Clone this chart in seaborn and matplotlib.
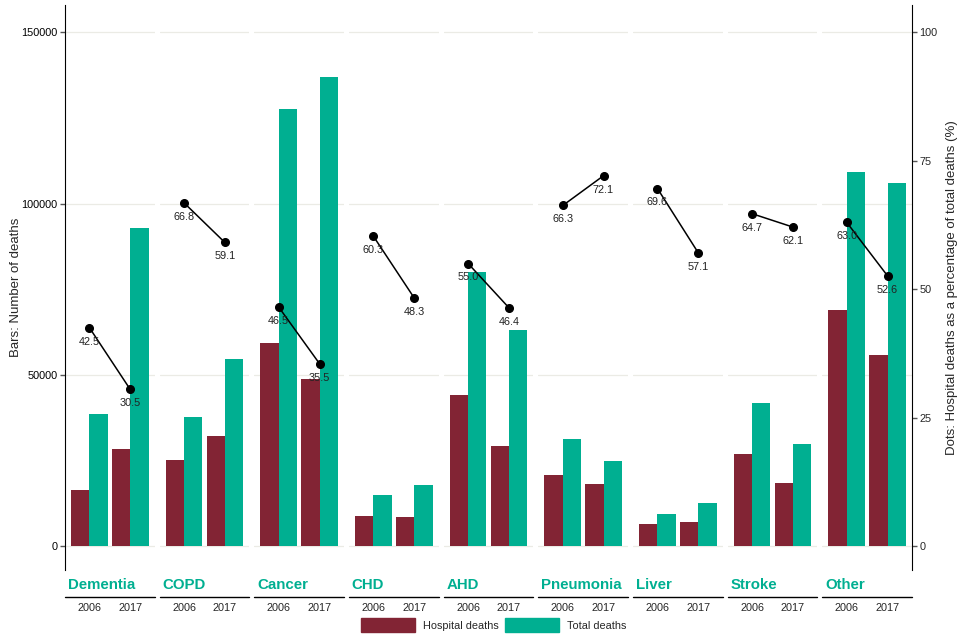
import matplotlib
matplotlib.use("Agg")
import matplotlib.pyplot as plt
import matplotlib.patches as mpatches
import seaborn as sns
import pandas as pd

causes = ["Dementia", "COPD", "Cancer", "CHD", "AHD", "Pneumonia", "Liver", "Stroke", "Other"]
years = ["2006", "2017"]
hosp_2006 = [16300, 25100, 59200, 8750, 44100, 20700, 6400, 26800, 68900]
hosp_2017 = [28300, 32100, 48700, 8460, 29200, 18100, 7000, 18400, 55700]
total_2006 = [38500, 37600, 127500, 14900, 80000, 31200, 9300, 41700, 109100]
total_2017 = [92800, 54500, 137100, 17800, 63000, 24800, 12500, 29800, 105900]
pct_2006 = [42.5, 66.8, 46.5, 60.3, 55.0, 66.3, 69.6, 64.7, 63.0]
pct_2017 = [30.5, 59.1, 35.5, 48.3, 46.4, 72.1, 57.1, 62.1, 52.6]

types = ["Hospital deaths", "Total deaths"]
colors = ["#822434", "#00AF91"]
scale = 1500  # percent -> bar axis

rows = []
for i, c in enumerate(causes):
    rows.append([c, "2006", "Hospital deaths", hosp_2006[i]])
    rows.append([c, "2006", "Total deaths", total_2006[i]])
    rows.append([c, "2017", "Hospital deaths", hosp_2017[i]])
    rows.append([c, "2017", "Total deaths", total_2017[i]])
df = pd.DataFrame(rows, columns=["cause", "year", "type", "deaths"])

sns.set_style("white")
plt.rcParams["font.family"] = ["Liberation Sans", "DejaVu Sans"]

fig, axes = plt.subplots(1, 9, figsize=(9.6, 6.4), dpi=100, sharey=True)
fig.subplots_adjust(left=65/960, right=912/960, top=1-5/640, bottom=1-570/640, wspace=0.056)

ylo, yhi = -7000, 158000

for i, (ax, c) in enumerate(zip(axes, causes)):
    sub = df[df["cause"] == c]
    sns.barplot(data=sub, x="year", y="deaths", hue="type", hue_order=types, order=years,
                palette=colors, saturation=1, width=0.9, legend=False, ax=ax, zorder=2,
                linewidth=0, edgecolor="none")
    ax.set_axisbelow(True)
    ax.yaxis.grid(True, color="#EBEBE5", lw=0.9)
    ax.set_xlim(-0.6, 1.6)
    ax.set_ylim(ylo, yhi)
    ax.set_yticks([0, 50000, 100000, 150000])
    ax.set_xlabel("")
    ax.set_ylabel("")
    for s in ["top", "bottom", "right", "left"]:
        ax.spines[s].set_visible(False)
    ax.tick_params(axis="x", length=0, pad=24, labelsize=7.8)
    if i == 0:
        ax.tick_params(axis="y", left=True, length=3.5, width=1, color="#555555",
                       direction="out", pad=2, labelsize=7.8, labelcolor="black")
    else:
        ax.tick_params(axis="y", length=0, left=False, right=False)

    # dots
    yp = [pct_2006[i] * scale, pct_2017[i] * scale]
    ax.plot([0, 1], yp, color="black", lw=1.1, marker="o", ms=5.5, zorder=4)
    for x, v, p in zip([0, 1], yp, [pct_2006[i], pct_2017[i]]):
        ax.annotate(f"{p:.1f}", (x, v), xytext=(0, -10), textcoords="offset points",
                    ha="center", va="center", fontsize=7.8, color="#222222", zorder=5)

    # strip
    ax.text(0.03, -0.027, c, transform=ax.transAxes, ha="left", va="center",
            fontsize=10.8, fontweight="bold", color="#00AF91")
    ax.plot([0, 1], [-0.047, -0.047], transform=ax.transAxes, color="black", lw=1, clip_on=False)

axes[0].spines["left"].set_visible(True)
axes[0].spines["left"].set_color("black")
axes[0].set_ylabel("Bars: Number of deaths", fontsize=9.5)
axes[0].yaxis.set_label_coords(-0.48, 0.5)

ax2 = axes[-1].twinx()
ax2.set_ylim(ylo / scale, yhi / scale)
ax2.set_yticks([0, 25, 50, 75, 100])
for s in ["top", "bottom", "left"]:
    ax2.spines[s].set_visible(False)
ax2.spines["right"].set_color("black")
ax2.tick_params(axis="y", right=True, length=3.5, width=1, color="#555555",
                direction="out", pad=2, labelsize=7.8)
ax2.set_ylabel("Dots: Hospital deaths as a percentage of total deaths (%)", fontsize=9.5, labelpad=6)

handles = [mpatches.Patch(color=colors[0], label=types[0]),
           mpatches.Patch(color=colors[1], label=types[1])]
fig.legend(handles=handles, loc="center", bbox_to_anchor=(0.514, 1-625/640), ncol=2,
           frameon=False, fontsize=7.8, handlelength=5.0, handleheight=1.6,
           columnspacing=0.6, handletextpad=0.7, borderaxespad=0, borderpad=0)

fig.savefig("out.png", dpi=100)
